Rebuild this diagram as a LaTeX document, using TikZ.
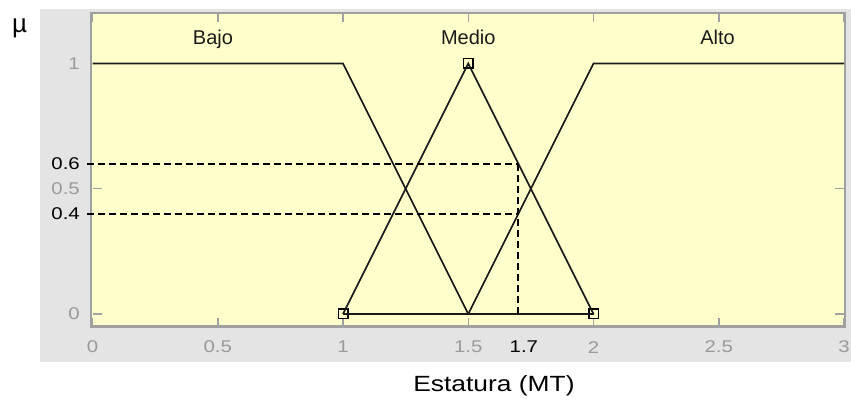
\documentclass[tikz,border=0pt]{standalone}
\usepackage{fontspec}
\setmainfont{Liberation Sans}
\newfontfamily\widefont[FakeStretch=1.2]{Liberation Sans}
\definecolor{panel}{HTML}{E4E4E4}
\definecolor{plotbg}{HTML}{FFFFCC}
\definecolor{axisgray}{HTML}{A0A0A0}
\definecolor{ticklab}{HTML}{999999}
\definecolor{mfline}{HTML}{1A1A1A}
\begin{document}
\begin{tikzpicture}[x=1pt,y=1pt,
  mf/.style={draw=mfline,line width=1.7pt,line join=miter},
  guide/.style={draw=black,line width=1.8pt,dash pattern=on 7pt off 4pt},
  ticklbl/.style={text=ticklab,font=\widefont\fontsize{17}{17}\selectfont,inner sep=0pt},
  vallbl/.style={text=black,font=\widefont\fontsize{17}{17}\selectfont,inner sep=0pt},
  mflbl/.style={text=mfline,font=\fontsize{20}{20}\selectfont,inner sep=0pt,anchor=base},
  tickmark/.style={draw=axisgray,line width=1.5pt},
  handle/.style={draw=black,fill=none,line width=1.5pt,minimum size=9.5pt,inner sep=0pt,rectangle}]
\useasboundingbox (0,0) rectangle (851,401);
\fill[white] (0,0) rectangle (851,401);
\fill[panel] (40,39) rectangle (851,392);
\node[font=\fontsize{26}{26}\selectfont,inner sep=0pt,anchor=base] (mu) at (19.5,368) {µ};
\node[font=\widefont\fontsize{22}{22}\selectfont,inner sep=0pt,anchor=base] (xlabel) at (494,9.3) {Estatura (MT)};
\begin{scope}[shift={(92.5pt,87pt)},x=250.5pt,y=250.5pt]
  \filldraw[fill=plotbg,draw=axisgray,line width=2.2pt] (-0.006,-0.05) rectangle (3.004,1.2);
  \foreach \v in {0,0.5,1,1.5,2,2.5,3} {
    \draw[tickmark] (\v,-0.05) -- ++(0,9pt);
    \draw[tickmark] (\v,1.2) -- ++(0,-9pt);
  }
  \foreach \v in {0,0.5,1} {
    \draw[tickmark] (0,\v) -- ++(9pt,0);
    \draw[tickmark] (3,\v) -- ++(-9pt,0);
  }
  % tick labels
  \foreach \v/\t [count=\i] in {0/0,0.5/0.5,1/1,1.5/1.5,2/2,2.5/2.5,3/3}
    \node[ticklbl] (xt\i) at (\v,-0.132) {\t};
  \node[ticklbl,anchor=east] (yt0) at (-0.05,0) {0};
  \node[ticklbl,anchor=east] (yt5) at (-0.05,0.5) {0.5};
  \node[ticklbl,anchor=east] (yt1) at (-0.05,1) {1};
  \node[vallbl,anchor=east] (l6) at (-0.05,0.6) {0.6};
  \node[vallbl,anchor=east] (l4) at (-0.05,0.4) {0.4};
  \node[vallbl] (l17) at (1.722,-0.132) {1.7};
  % mf labels
  \node[mflbl] (bajo) at (0.481,1.074) {Bajo};
  \node[mflbl] (medio) at (1.5,1.074) {Medio};
  \node[mflbl] (alto) at (2.495,1.074) {Alto};
  % coordinates
  \coordinate (b0) at (0,1);
  \coordinate (b1) at (1,1);
  \coordinate (b2) at (1.5,0);
  \coordinate (a0) at (1.5,0);
  \coordinate (a1) at (2,1);
  \coordinate (a2) at (3,1);
  \coordinate (p6) at (-0.02,0.6);
  \coordinate (q6) at (1.7,0.6);
  \coordinate (p4) at (-0.02,0.4);
  \coordinate (q4) at (1.7,0.4);
  \coordinate (q0) at (1.7,0);
  \node[handle] (m1) at (1,0) {};
  \node[handle] (m2) at (1.5,1) {};
  \node[handle] (m3) at (2,0) {};
  % membership functions
  \draw[mf] (b0) -- (b1) -- (b2);
  \draw[mf] (a0) -- (a1) -- (a2);
  \draw[mf] (m1.center) -- (m2.center) -- (m3.center);
  \draw[mf] (m1.center) -- (m3.center);
  % guides
  \draw[guide] (p6) -- (q6);
  \draw[guide] (p4) -- (q4);
  \draw[guide] (q0) -- (q6);
\end{scope}
\end{tikzpicture}
\end{document}
